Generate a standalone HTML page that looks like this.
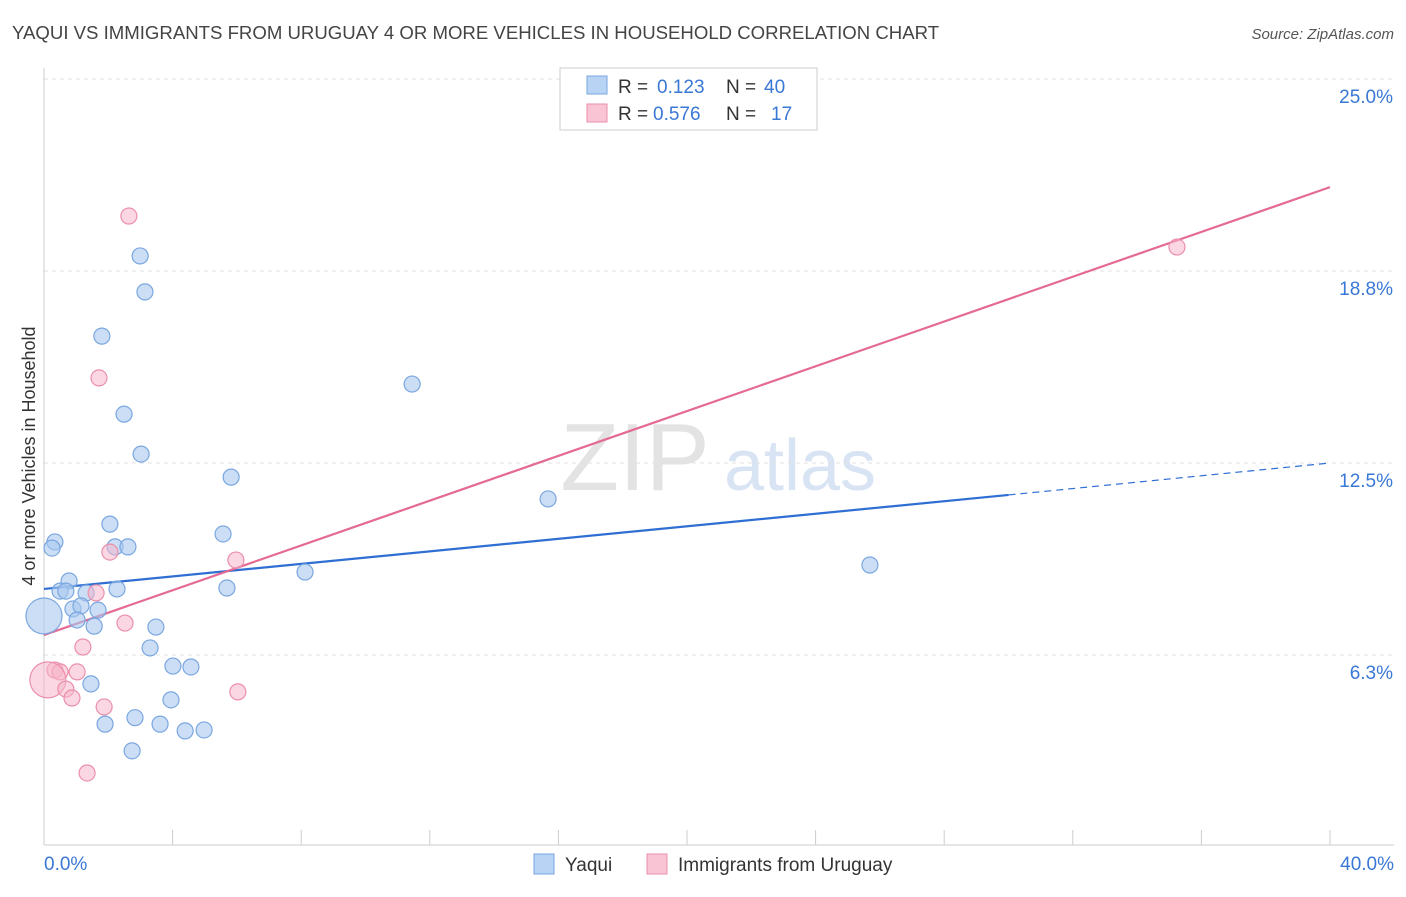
<!DOCTYPE html>
<html><head><meta charset="utf-8"><style>
body{margin:0;background:#fff;font-family:"Liberation Sans",sans-serif}
svg text{font-family:"Liberation Sans",sans-serif}
</style></head><body>
<svg id="c" width="1406" height="892">
<text x="12" y="39" font-size="18.6" fill="#444">YAQUI VS IMMIGRANTS FROM URUGUAY 4 OR MORE VEHICLES IN HOUSEHOLD CORRELATION CHART</text>
<text x="1394" y="39" font-size="15" fill="#555" text-anchor="end" font-style="italic">Source: ZipAtlas.com</text>
<text x="35" y="456" font-size="18" fill="#333" text-anchor="middle" transform="rotate(-90 35 456)">4 or more Vehicles in Household</text>
<g><text x="635" y="490" font-size="96" fill="#e3e3e3" text-anchor="middle" font-family="Liberation Serif">ZIP</text><text x="800" y="490" font-size="72" fill="#d8e4f4" text-anchor="middle">atlas</text></g>
<g id="grid"></g><g id="axes"></g><g id="lines"></g><g id="pts"></g>
<g>
<rect x="560" y="68" width="257" height="62" fill="#fff" stroke="#ccc"/>
<rect x="587" y="76" width="20" height="18" fill="#b8d3f4" stroke="#7aa7e0"/>
<text x="618" y="93" font-size="19" fill="#333">R =</text><text x="657" y="93" font-size="19" fill="#3a78d6">0.123</text>
<text x="726" y="93" font-size="19" fill="#333">N =</text><text x="764" y="93" font-size="19" fill="#3a78d6">40</text>
<rect x="587" y="104" width="20" height="18" fill="#f9c5d4" stroke="#eb8fab"/>
<text x="618" y="120" font-size="19" fill="#333">R =</text><text x="653" y="120" font-size="19" fill="#3a78d6">0.576</text>
<text x="726" y="120" font-size="19" fill="#333">N =</text><text x="771" y="120" font-size="19" fill="#3a78d6">17</text>
</g>
<g>
<rect x="534" y="854" width="20" height="20" fill="#b8d3f4" stroke="#7aa7e0"/><text x="565" y="871" font-size="19" fill="#333">Yaqui</text>
<rect x="647" y="854" width="20" height="20" fill="#f9c5d4" stroke="#eb8fab"/><text x="678" y="871" font-size="19" fill="#333">Immigrants from Uruguay</text>
</g>
</svg>
<script>
const yTicks=[6.25,12.5,18.75,25];
const yTickLabels=["6.3%","12.5%","18.8%","25.0%"];
const xTickLabels=["0.0%","40.0%"];
const blueX=[2.99,3.14,1.80,2.49,3.02,11.45,5.82,15.68,2.05,5.57,0.34,0.25,2.21,2.61,8.12,25.69,0.78,0.50,0.68,1.31,2.27,5.69,0.90,1.15,1.68,1.03,1.56,3.48,3.30,0,4.01,4.57,1.46,3.95,2.83,1.90,3.61,4.39,4.98,2.74];
const blueY=[19.24,18.07,16.63,14.09,12.79,15.07,12.04,11.33,10.51,10.19,9.93,9.73,9.77,9.77,8.95,9.18,8.66,8.33,8.33,8.27,8.40,8.43,7.75,7.85,7.71,7.39,7.19,7.16,6.48,7.52,5.89,5.86,5.31,4.79,4.21,4.00,4.00,3.78,3.81,3.13];
const blueR=[8,8,8,8,8,8,8,8,8,8,8,8,8,8,8,8,8,8,8,8,8,8,8,8,8,8,8,8,8,18,8,8,8,8,8,8,8,8,8,8];
const pinkX=[2.64,35.24,1.71,2.05,5.97,1.62,2.52,1.21,0.34,0.50,1.03,0.12,0.68,6.03,0.87,1.87,1.34];
const pinkY=[20.54,19.53,15.27,9.60,9.34,8.27,7.29,6.51,5.76,5.70,5.70,5.44,5.14,5.05,4.85,4.56,2.41];
const pinkR=[8,8,8,8,8,8,8,8,8,8,8,18,8,8,8,8,8];
const blueLine=[[0,8.40],[30,11.46],[40,12.5]];
const pinkLine=[[0,6.90],[40,21.48]];
const X=v=>44+v*32.15, Y=v=>847-v*30.72;
const NS="http://www.w3.org/2000/svg";
function mk(p,t,a){const e=document.createElementNS(NS,t);for(const k in a)e.setAttribute(k,a[k]);p.appendChild(e);return e;}
const grid=document.getElementById('grid'),axes=document.getElementById('axes');
yTicks.forEach((t,i)=>{
 const l=mk(grid,'line',{x1:44,x2:1394,y1:Y(t),y2:Y(t),stroke:'#e2e2e2','stroke-dasharray':'4,4'});
 
 
 const tx=mk(grid,'text',{x:1393,y:Y(t)+24,'font-size':19,fill:'#3a78d6','text-anchor':'end'});tx.textContent=yTickLabels[i];
 
 
});
mk(axes,'line',{x1:44,x2:44,y1:68,y2:845,stroke:'#ccc'});
mk(axes,'line',{x1:44,x2:1394,y1:845,y2:845,stroke:'#ccc'});
for(let k=0;k<=10;k++){const t=mk(axes,'line',{x1:X(k*4),x2:X(k*4),y1:830,y2:845,stroke:'#ccc'});
 
 }
[[0,"start",44],[1,"end",1394]].forEach(([i,a,x])=>{const t=mk(axes,'text',{x:x,y:870,'font-size':19,fill:'#3a78d6','text-anchor':a});t.textContent=xTickLabels[i];
 
 });
const lines=document.getElementById('lines');
let bl=mk(lines,'line',{x1:X(blueLine[0][0]),y1:Y(blueLine[0][1]),x2:X(blueLine[1][0]),y2:Y(blueLine[1][1]),stroke:'#2f6fd3','stroke-width':2.2});


let bd=mk(lines,'line',{x1:X(blueLine[1][0]),y1:Y(blueLine[1][1]),x2:X(blueLine[2][0]),y2:Y(blueLine[2][1]),stroke:'#2f6fd3','stroke-width':1.2,'stroke-dasharray':'7,5'});


let pl=mk(lines,'line',{x1:X(pinkLine[0][0]),y1:Y(pinkLine[0][1]),x2:X(pinkLine[1][0]),y2:Y(pinkLine[1][1]),stroke:'#e46a93','stroke-width':2.2});


const pts=document.getElementById('pts');
blueX.forEach((x,i)=>{const c=mk(pts,'circle',{cx:X(x),cy:Y(blueY[i]),r:blueR[i],fill:'rgba(169,200,240,0.6)',stroke:'#7aa7e0','stroke-width':1.2});
 
 });
pinkX.forEach((x,i)=>{const c=mk(pts,'circle',{cx:X(x),cy:Y(pinkY[i]),r:pinkR[i],fill:'rgba(246,182,202,0.55)',stroke:'#eb8fab','stroke-width':1.2});
 
 });
</script>
</body></html>
